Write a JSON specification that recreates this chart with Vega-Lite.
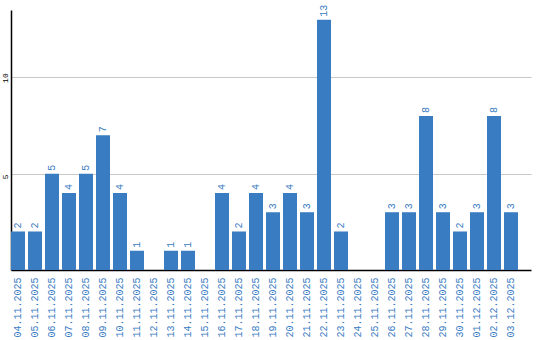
{
  "$schema": "https://vega.github.io/schema/vega-lite/v6.json",
  "width": 520,
  "height": 260,
  "autosize": {"type": "none"},
  "padding": {"left": 11, "top": 10, "right": 9, "bottom": 70},
  "background": "white",
  "config": {"view": {"stroke": null}},
  "data": {"values": [
    {"d": "04.11.2025", "v": 2},
    {"d": "05.11.2025", "v": 2},
    {"d": "06.11.2025", "v": 5},
    {"d": "07.11.2025", "v": 4},
    {"d": "08.11.2025", "v": 5},
    {"d": "09.11.2025", "v": 7},
    {"d": "10.11.2025", "v": 4},
    {"d": "11.11.2025", "v": 1},
    {"d": "12.11.2025", "v": 0},
    {"d": "13.11.2025", "v": 1},
    {"d": "14.11.2025", "v": 1},
    {"d": "15.11.2025", "v": 0},
    {"d": "16.11.2025", "v": 4},
    {"d": "17.11.2025", "v": 2},
    {"d": "18.11.2025", "v": 4},
    {"d": "19.11.2025", "v": 3},
    {"d": "20.11.2025", "v": 4},
    {"d": "21.11.2025", "v": 3},
    {"d": "22.11.2025", "v": 13},
    {"d": "23.11.2025", "v": 2},
    {"d": "24.11.2025", "v": 0},
    {"d": "25.11.2025", "v": 0},
    {"d": "26.11.2025", "v": 3},
    {"d": "27.11.2025", "v": 3},
    {"d": "28.11.2025", "v": 8},
    {"d": "29.11.2025", "v": 3},
    {"d": "30.11.2025", "v": 2},
    {"d": "01.12.2025", "v": 3},
    {"d": "02.12.2025", "v": 8},
    {"d": "03.12.2025", "v": 3}
  ]},
  "encoding": {
    "x": {
      "field": "d", "type": "ordinal", "sort": null, "title": null,
      "scale": {"paddingInner": 0.1765, "paddingOuter": 0.382, "align": 0},
      "axis": {
        "labelAngle": -90, "labelAlign": "right", "labelBaseline": "middle",
        "labelFont": "Liberation Mono", "labelFontSize": 10, "labelColor": "#3a7cc2",
        "labelPadding": 7, "ticks": false, "domainColor": "#000000", "domainWidth": 1.5,
        "grid": false
      }
    },
    "y": {
      "field": "v", "type": "quantitative", "title": null,
      "scale": {"domain": [0, 13.5], "nice": false, "zero": true},
      "axis": {
        "values": [5, 10], "labelAngle": -90, "labelAlign": "left", "labelBaseline": "middle",
        "labelFont": "Liberation Mono", "labelFontSize": 8, "labelColor": "#000000",
        "labelPadding": 6, "labelOffset": 5, "ticks": false, "domainColor": "#000000", "domainWidth": 1.5,
        "grid": true, "gridColor": "#c8c8c8", "gridWidth": 1
      }
    }
  },
  "layer": [
    {"mark": {"type": "bar", "color": "#3a7cc2"}},
    {
      "transform": [{"filter": "datum.v > 0"}],
      "mark": {"type": "text", "angle": 270, "align": "left", "baseline": "middle",
               "dx": 3, "font": "Liberation Mono", "fontSize": 10, "color": "#3a7cc2"},
      "encoding": {"text": {"field": "v", "type": "quantitative"}}
    }
  ]
}
